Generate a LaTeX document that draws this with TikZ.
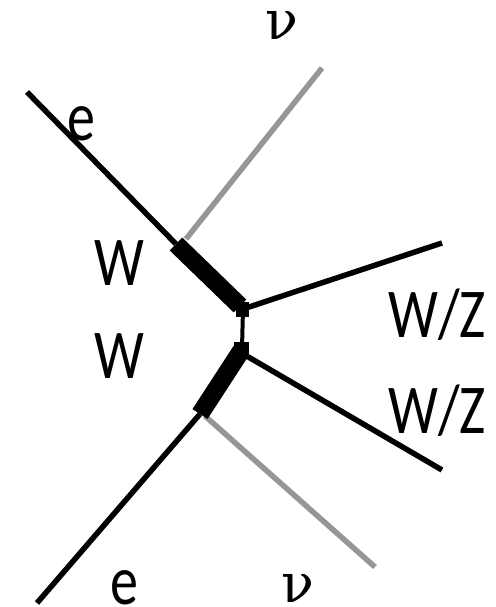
\documentclass[tikz,border=0pt]{standalone}
\usepackage{fontspec}
\setmainfont{Carlito}
\newfontfamily\greekfont{DejaVu Serif}
\definecolor{nugrey}{RGB}{150,150,150}
\tikzset{
  lbl/.style={anchor=base west, inner sep=0pt, font=\fontsize{56}{60}\selectfont},
  nulbl/.style={anchor=base west, inner sep=0pt, font=\greekfont\fontsize{54}{60}\selectfont},
  fermion/.style={line width=5.5pt, black, line cap=butt},
  neutrino/.style={line width=5.5pt, nugrey, line cap=butt},
  boson/.style={line width=18pt, black, line cap=butt},
  prop/.style={line width=4pt, black},
  boson out/.style={line width=5.5pt, black, line cap=butt},
}
\newcommand{\stretchtxt}[1]{\scalebox{1}[1.25]{#1}}
\begin{document}
\begin{tikzpicture}[x={(1pt,0)}, y={(0,-1pt)}]
\useasboundingbox (0,0) rectangle (495,607);
% coordinates
\coordinate (eTop) at (27,92);
\coordinate (a) at (176,244);
\coordinate (nuTopStart) at (186,239);
\coordinate (nuTop) at (322,68);
\coordinate (v1) at (243,309);
\coordinate (v2) at (242,348);
\coordinate (bosTopEnd) at (240,306);
\coordinate (bosBotEnd) at (241,351);
\coordinate (b) at (200,414);
\coordinate (eBot) at (37,603);
\coordinate (nuBotStart) at (205,416);
\coordinate (nuBot) at (375,567);
\coordinate (wz1) at (442,243);
\coordinate (wz2) at (442,470);
\coordinate (v2r) at (245,355);
% lines
\draw[neutrino] (nuTopStart) -- (nuTop);
\draw[neutrino] (nuBotStart) -- (nuBot);
\draw[fermion] (eTop) -- (a);
\draw[fermion] (eBot) -- (b);
\draw[boson out] (v1) -- (wz1);
\draw[boson out] (v2r) -- (wz2);
\draw[prop] (v1) -- (v2);
\draw[boson] (a) -- (bosTopEnd);
\draw[boson] (bosBotEnd) -- (b);
\fill (236,302) rectangle (249,317);
\fill (234,342) rectangle (249,356);
% labels
\node[nulbl] (lnu1) at (265,40) {ν};
\node[lbl] (le1) at (67,140) {\stretchtxt{e}};
\node[lbl] (lw1) at (94,285) {\stretchtxt{W}};
\node[lbl] (lw2) at (94,378) {\stretchtxt{W}};
\node[lbl] (lwz1) at (388,337) {\stretchtxt{W/Z}};
\node[lbl] (lwz2) at (388,433) {\stretchtxt{W/Z}};
\node[lbl] (le2) at (110,604) {\stretchtxt{e}};
\node[nulbl] (lnu2) at (281,602) {ν};
\end{tikzpicture}
\end{document}
